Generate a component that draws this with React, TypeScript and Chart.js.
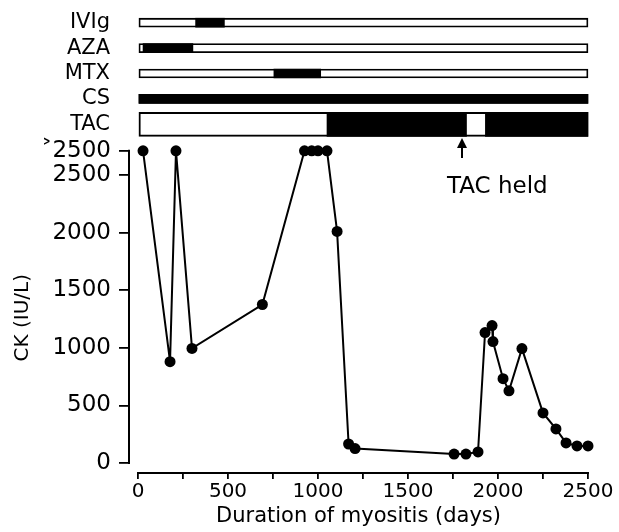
import React, { useEffect, useRef } from 'react';
import { Chart, registerables } from 'chart.js';

Chart.register(...registerables);

// ">2500" values are plotted at the level of the ">2500" tick
const GT2500 = 2710;

// CK measurements
const daysX = [28, 178, 211, 300, 691, 925, 965, 1000, 1050, 1106, 1170, 1206, 1756, 1822, 1889, 1928, 1967, 1972, 2028, 2061, 2133, 2250, 2322, 2378, 2439, 2500];
const ckY = [GT2500, 880, GT2500, 995, 1376, GT2500, GT2500, GT2500, GT2500, 2010, 165, 125, 78, 78, 96, 1132, 1193, 1054, 732, 627, 993, 435, 296, 174, 148, 148];

// Treatment periods (days), black = on treatment
const treatments = ['IVIg', 'AZA', 'MTX', 'CS', 'TAC'];
const thinRows = ['IVIg', 'AZA', 'MTX', 'CS'];
const ivigOn = [[320, 480]];
const azaOn = [[28, 305]];
const mtxOn = [[755, 1015]];
const csOn = [[0, 2500]];
const tacOn = [[1050, 1825], [1930, 2500]];
const treatmentSpan = [0, 2500];
const tacHeldDay = 1800;

// Ticks
const xTicks = [0, 250, 500, 750, 1000, 1250, 1500, 1750, 2000, 2250, 2500];
const xLabelled = [0, 500, 1000, 1500, 2000, 2500];
const yTicks = [0, 500, 1000, 1500, 2000, 2500, GT2500];
const yTickLabels = ['0', '500', '1000', '1500', '2000', '2500', '˃2500'];

const FONT = 'DejaVu Sans';

const axisPlugin = {
  id: 'axisPlugin',
  afterDatasetsDraw(chart: any) {
    const { ctx, scales, chartArea } = chart;
    const x = scales.x;
    const y = scales.y;
    ctx.save();
    ctx.strokeStyle = '#000';
    ctx.lineWidth = 2;
    ctx.beginPath();
    const yl = chartArea.left;
    ctx.moveTo(yl, y.getPixelForValue(GT2500) - 1);
    ctx.lineTo(yl, y.getPixelForValue(0) + 1);
    const xb = chartArea.bottom;
    ctx.moveTo(x.getPixelForValue(0) - 1, xb);
    ctx.lineTo(x.getPixelForValue(2500) + 1, xb);
    ctx.stroke();

    // TAC held annotation
    const ax = x.getPixelForValue(tacHeldDay);
    ctx.fillStyle = '#000';
    ctx.beginPath();
    ctx.moveTo(ax, 138);
    ctx.lineTo(ax - 5, 148);
    ctx.lineTo(ax + 5, 148);
    ctx.closePath();
    ctx.fill();
    ctx.beginPath();
    ctx.moveTo(ax, 146);
    ctx.lineTo(ax, 158);
    ctx.stroke();
    ctx.font = `23px "${FONT}"`;
    ctx.textAlign = 'left';
    ctx.textBaseline = 'alphabetic';
    ctx.fillText('TAC held', ax - 15, 193);
    ctx.restore();
  },
};

export default function App() {
  const ref = useRef<HTMLCanvasElement>(null);
  useEffect(() => {
    const canvas = ref.current!;
    Chart.defaults.font.family = FONT;
    Chart.defaults.color = '#000';
    const seg = (row: string, arr: number[][]) => arr.map(([a, b]) => ({ y: row, x: [a, b] }));
    const common = { type: 'bar', indexAxis: 'y', grouped: false, xAxisID: 'x', yAxisID: 'yT', clip: false, borderSkipped: false };
    const chart = new Chart(canvas, {
      type: 'scatter',
      data: {
        datasets: [
          {
            type: 'scatter',
            data: daysX.map((d, i) => ({ x: d, y: ckY[i] })),
            showLine: true,
            borderColor: '#000',
            borderWidth: 2,
            pointRadius: 5.5,
            pointBackgroundColor: '#000',
            pointBorderColor: '#000',
            pointBorderWidth: 0,
            xAxisID: 'x',
            yAxisID: 'y',
            clip: false,
          },
          {
            ...common,
            data: [...seg('IVIg', ivigOn), ...seg('AZA', azaOn), ...seg('MTX', mtxOn), ...seg('CS', csOn)],
            backgroundColor: '#000',
            barThickness: 9,
          },
          {
            ...common,
            data: seg('TAC', tacOn),
            backgroundColor: '#000',
            barThickness: 24,
          },
          {
            ...common,
            data: thinRows.map((r) => ({ y: r, x: treatmentSpan })),
            backgroundColor: '#fff',
            borderColor: '#000',
            borderWidth: 1.8,
            barThickness: 9,
          },
          {
            ...common,
            data: [{ y: 'TAC', x: treatmentSpan }],
            backgroundColor: '#fff',
            borderColor: '#000',
            borderWidth: 2,
            barThickness: 24,
          },
        ] as any,
      },
      options: {
        responsive: false,
        animation: false,
        events: [],
        layout: { padding: { top: 10, right: 31, bottom: 0, left: 0 } },
        plugins: { legend: { display: false }, tooltip: { enabled: false } },
        scales: {
          x: {
            type: 'linear',
            position: 'bottom',
            min: -50,
            max: 2500,
            afterBuildTicks: (s: any) => { s.ticks = xTicks.map((v) => ({ value: v })); },
            afterFit: (s: any) => { s.height = 59; s.paddingLeft = 0; s.paddingRight = 0; },
            ticks: {
              autoSkip: false,
              maxRotation: 0,
              padding: 1,
              font: { size: 20, family: FONT },
              color: '#000',
              callback: (v: any) => (xLabelled.includes(v) ? String(v) : ''),
            },
            grid: { display: true, drawOnChartArea: false, drawTicks: true, tickLength: 6, color: '#000', lineWidth: 1.8 },
            border: { display: false },
            title: {
              display: true,
              text: 'Duration of myositis (days)',
              font: { size: 21, family: FONT },
              color: '#000',
              padding: { top: 0, bottom: 3 },
            },
          },
          y: {
            type: 'linear',
            position: 'left',
            stack: 'left',
            stackWeight: 336,
            weight: 0,
            min: -86.8,
            max: 2829.9,
            afterBuildTicks: (s: any) => { s.ticks = yTicks.map((v) => ({ value: v })); },
            afterFit: (s: any) => { s.width = 129; s.paddingTop = 0; s.paddingBottom = 0; },
            ticks: {
              autoSkip: false,
              padding: 8,
              font: { size: 23, family: FONT },
              color: '#000',
              callback: (v: any) => {
                const i = yTicks.indexOf(v);
                return i >= 0 ? yTickLabels[i] : '';
              },
            },
            grid: { display: true, drawOnChartArea: false, drawTicks: true, tickLength: 10, color: '#000', lineWidth: 1.8 },
            border: { display: false },
            title: {
              display: true,
              text: 'CK (IU/L)    ',
              font: { size: 20, family: FONT },
              color: '#000',
              padding: { top: 11, bottom: 0 },
            },
          },
          yT: {
            type: 'category',
            position: 'left',
            stack: 'left',
            stackWeight: 127,
            weight: 1,
            labels: treatments,
            offset: true,
            afterFit: (s: any) => { s.width = 129; s.paddingTop = 0; s.paddingBottom = 0; },
            ticks: {
              autoSkip: false,
              padding: 19,
              font: { size: 21, family: FONT },
              color: '#000',
            },
            grid: { display: false, drawTicks: false },
            border: { display: false },
          },
        } as any,
      },
      plugins: [axisPlugin],
    } as any);
    return () => chart.destroy();
  }, []);
  return (
    <div style={{ position: 'fixed', left: 0, top: 0, width: 619, height: 532, background: '#fff' }}>
      <canvas ref={ref} width={619} height={532} style={{ display: 'block' }} />
    </div>
  );
}
